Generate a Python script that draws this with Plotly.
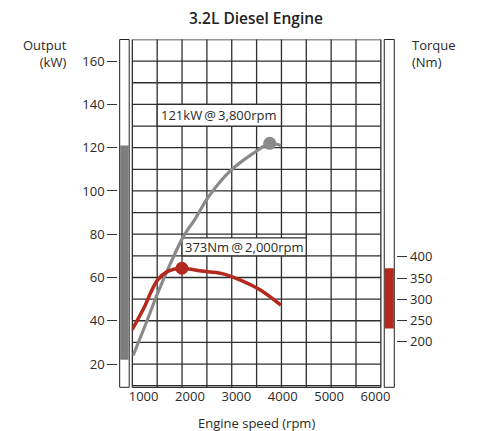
import plotly.graph_objects as go

# engine curves
rpm_power = [775, 1020, 1300, 1580, 1860, 2110, 2390, 2880, 3370, 3720, 3960]
power_kw = [24, 37, 52.5, 66.5, 79, 87, 97, 109.5, 117.5, 122, 121]

rpm_torque = [754, 1020, 1160, 1300, 1510, 1826, 2250, 2670, 3090, 3510, 3960]
torque_nm = [228, 282, 317, 345, 365, 373, 366.5, 361, 345, 322, 286]

peak_power = (3720, 122)
peak_torque = (1826, 373)
power_band = (22, 121)
torque_band = (231, 373)

power_ticks = [20, 40, 60, 80, 100, 120, 140, 160]
torque_ticks = [200, 250, 300, 350, 400]
rpm_ticks = [1000, 2000, 3000, 4000, 5000, 6000]

# page body has an 8px margin, so the figure is drawn 8px in from the corner
OFF = 8
W, H = 480 - OFF, 431 - OFF
FONT = "Open Sans"
GRID = "#2e2e2e"
GRAY = "#8a8a8a"
RED = "#b3291d"


def px(x):
    return (x - OFF) / W


def py(y):
    return 1 - (y - OFF) / H


fig = go.Figure()
fig.add_trace(go.Scatter(
    x=rpm_power, y=power_kw, mode="lines",
    line=dict(color=GRAY, width=3.2, shape="spline", smoothing=0.8),
    hoverinfo="skip", showlegend=False,
))
fig.add_trace(go.Scatter(
    x=[peak_power[0]], y=[peak_power[1]], mode="markers",
    marker=dict(color=GRAY, size=13), showlegend=False,
))
fig.add_trace(go.Scatter(
    x=rpm_torque, y=torque_nm, mode="lines", yaxis="y2",
    line=dict(color=RED, width=3.5, shape="spline", smoothing=0.8),
    hoverinfo="skip", showlegend=False,
))
fig.add_trace(go.Scatter(
    x=[peak_torque[0]], y=[peak_torque[1]], mode="markers", yaxis="y2",
    marker=dict(color=RED, size=13), showlegend=False,
))

shapes = []
# grid: 10 equal columns, rows every 10 kW
for i in range(11):
    shapes.append(dict(type="line", xref="x domain", yref="y domain",
                       x0=i / 10, x1=i / 10, y0=0, y1=1,
                       line=dict(color=GRID, width=1.3), layer="below"))
for v in range(10, 180, 10):
    shapes.append(dict(type="line", xref="x domain", yref="y",
                       x0=0, x1=1, y0=v, y1=v,
                       line=dict(color=GRID, width=1.3), layer="below"))
shapes.append(dict(type="line", xref="x domain", yref="y domain",
                   x0=0, x1=1, y0=0, y1=0,
                   line=dict(color=GRID, width=1.3), layer="below"))
# label boxes
shapes.append(dict(type="rect", xref="x domain", yref="y", x0=0.1, x1=0.6,
                   y0=130, y1=140, fillcolor="white",
                   line=dict(color=GRID, width=1.3), layer="below"))
shapes.append(dict(type="rect", xref="x domain", yref="y", x0=0.2, x1=0.7,
                   y0=70, y1=78.3, fillcolor="white",
                   line=dict(color=GRID, width=1.3), layer="below"))
# side range bars
shapes.append(dict(type="rect", xref="paper", yref="y domain",
                   x0=px(119.5), x1=px(129.3), y0=0, y1=1,
                   fillcolor="white", line=dict(color="#222", width=1)))
shapes.append(dict(type="rect", xref="paper", yref="y",
                   x0=px(120), x1=px(128.8), y0=power_band[0], y1=power_band[1],
                   fillcolor="#7d7d7d", line=dict(width=0)))
shapes.append(dict(type="rect", xref="paper", yref="y domain",
                   x0=px(391), x1=px(401.3), y0=0, y1=1,
                   fillcolor="white", line=dict(color="#222", width=1)))
shapes.append(dict(type="rect", xref="paper", yref="y2",
                   x0=px(391.5), x1=px(400.8), y0=torque_band[0], y1=torque_band[1],
                   fillcolor=RED, line=dict(width=0)))

txt = dict(family=FONT, size=13, color="#2a2a2a")
annotations = [
    dict(text="3.2L Diesel Engine", x=px(259), y=py(18.5), xref="paper", yref="paper",
         showarrow=False, xanchor="center", yanchor="middle",
         font=dict(family=FONT, size=15.5, color="#222", weight=600)),
    dict(text="Engine speed (rpm)", x=px(260), y=py(423), xref="paper", yref="paper",
         showarrow=False, xanchor="center", yanchor="middle", font=txt),
    dict(text="Output<br>(kW)", x=px(68), y=py(53), xref="paper", yref="paper",
         showarrow=False, xanchor="right", yanchor="middle", align="right", font=txt),
    dict(text="Torque<br>(Nm)", x=px(417), y=py(53), xref="paper", yref="paper",
         showarrow=False, xanchor="left", yanchor="middle", align="left", font=txt),
    dict(text="121kW\u2009@\u20093,800rpm", x=0.35, y=135, xref="x domain", yref="y",
         showarrow=False, xanchor="center", yanchor="middle", font=txt),
    dict(text="373Nm\u2009@\u20092,000rpm", x=0.45, y=74.2, xref="x domain", yref="y",
         showarrow=False, xanchor="center", yanchor="middle", font=txt),
]

fig.update_layout(
    width=W, height=H,
    margin=dict(l=0, r=0, t=0, b=0),
    paper_bgcolor="white", plot_bgcolor="white",
    font=txt,
    shapes=shapes, annotations=annotations,
    xaxis=dict(domain=[px(132.5), px(387.5)], range=[758, 6116],
               tickvals=rpm_ticks, ticks="", showgrid=False, zeroline=False,
               showline=False, tickfont=txt),
    yaxis=dict(domain=[py(387.3), py(39.5)], range=[9.25, 170],
               anchor="free", position=px(117), tickvals=power_ticks,
               ticks="outside", ticklen=10, tickcolor="#333", tickwidth=1.2,
               showgrid=False, zeroline=False, showline=False, tickfont=txt),
    yaxis2=dict(overlaying="y", side="right", range=[91.9, 913.2],
                anchor="free", position=px(403.5), tickvals=torque_ticks,
                ticks="outside", ticklen=10, tickcolor="#333", tickwidth=1.2,
                showgrid=False, zeroline=False, showline=False, tickfont=txt),
)

fig.write_html("out.html")
